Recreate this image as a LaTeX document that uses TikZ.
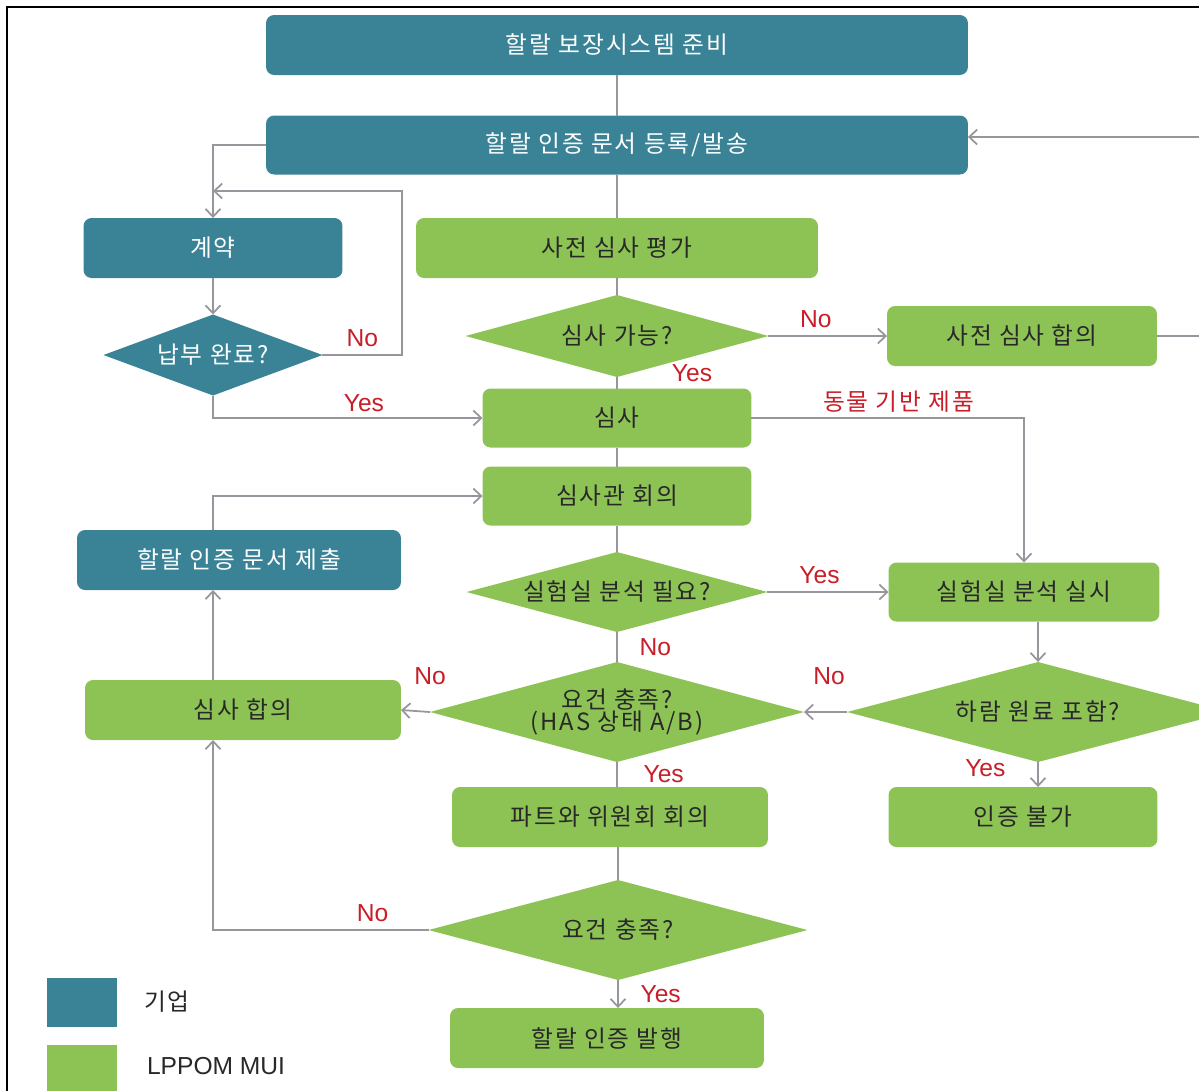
\documentclass[tikz,border=0pt]{standalone}
\usepackage{fontspec}
\setmainfont{Liberation Sans}
\newfontfamily\kr[LetterSpace=8]{Noto Sans CJK KR}
\usepackage{tikz}
\usetikzlibrary{positioning}
\usetikzlibrary{shapes.geometric}
\usetikzlibrary{arrows.meta}

\definecolor{corpTeal}{RGB}{58,131,150}
\definecolor{lppomGreen}{RGB}{141,195,84}
\definecolor{linkGray}{RGB}{150,150,156}
\definecolor{answerRed}{RGB}{200,30,40}
\definecolor{darkText}{RGB}{40,40,40}

\tikzset{
	procBox/.style={rectangle, rounded corners=0.16cm, inner sep=2pt, outer sep=0pt,
		font=\kr\fontsize{13.5}{13}\selectfont},
	corpBox/.style={procBox, fill=corpTeal, text=white},
	lppomBox/.style={procBox, fill=lppomGreen, text=darkText},
	decision/.style={diamond, aspect=3.6, inner sep=0pt, outer sep=0pt, align=center,
		font=\kr\fontsize{13.5}{13}\selectfont},
	corpDec/.style={decision, fill=corpTeal, text=white},
	lppomDec/.style={decision, fill=lppomGreen, text=darkText},
	link/.style={draw=linkGray, line width=1pt},
	flow/.style={link, -{Straight Barb[length=4.5pt,width=8.5pt]}},
	answer/.style={text=answerRed, inner sep=1pt, font=\fontsize{14}{14}\selectfont}
}

\begin{document}
\begin{tikzpicture}[x=0.02cm, y=-0.02cm]

\useasboundingbox (0,0) rectangle (1199,1090);
\clip (0,0) rectangle (1199,1090);

\draw[black, line width=1.2pt] (7,1100) -- (7,7) -- (1210,7);

\node[
	corpBox,
	minimum width=14.04cm,
	minimum height=1.2cm
] (prep) at (617,45) {할랄 보장시스템 준비};

\node[
	corpBox,
	minimum width=14.04cm,
	minimum height=1.18cm
] (register) at (617,145) {할랄 인증 문서 등록/발송};

\node[
	corpBox,
	minimum width=5.18cm,
	minimum height=1.2cm
] (contract) at (213,248) {계약};

\node[
	lppomBox,
	minimum width=8.04cm,
	minimum height=1.2cm
] (preEval) at (617,248) {사전 심사 평가};

\node[
	corpDec,
	minimum width=4.38cm,
	minimum height=1.62cm
] (payDone) at (213,355) {납부 완료?};

\node[
	lppomDec,
	minimum width=6.06cm,
	minimum height=1.64cm
] (canAudit) at (617,336) {심사 가능?};

\node[
	lppomBox,
	minimum width=5.4cm,
	minimum height=1.2cm
] (preCons) at (1022,336) {사전 심사 합의};

\node[
	lppomBox,
	minimum width=5.38cm,
	minimum height=1.18cm
] (audit) at (617,418) {심사};

\node[
	lppomBox,
	minimum width=5.38cm,
	minimum height=1.18cm
] (auditorMeet) at (617,496) {심사관 회의};

\node[
	corpBox,
	minimum width=6.48cm,
	minimum height=1.2cm
] (submitDoc) at (239,560) {할랄 인증 문서 제출};

\node[
	lppomDec,
	minimum width=6.02cm,
	minimum height=1.6cm
] (labNeed) at (617,592) {실험실 분석 필요?};

\node[
	lppomBox,
	minimum width=5.42cm,
	minimum height=1.18cm
] (labDo) at (1024,592) {실험실 분석 실시};

\node[
	lppomDec,
	minimum width=7.48cm,
	minimum height=2cm
] (reqHas) at (617,712) {요건 충족?\\(HAS 상태 A/B)};

\node[
	lppomBox,
	minimum width=6.32cm,
	minimum height=1.2cm
] (auditCons) at (243,710) {심사 합의};

\node[
	lppomDec,
	minimum width=7.64cm,
	minimum height=2cm
] (haram) at (1038,712) {하람 원료 포함?};

\node[
	lppomBox,
	minimum width=5.38cm,
	minimum height=1.2cm
] (reject) at (1023,817) {인증 불가};

\node[
	lppomBox,
	minimum width=6.32cm,
	minimum height=1.2cm
] (fatwa) at (610,817) {파트와 위원회 회의};

\node[
	lppomDec,
	minimum width=7.58cm,
	minimum height=2cm
] (reqMet) at (618,930) {요건 충족?};

\node[
	lppomBox,
	minimum width=6.28cm,
	minimum height=1.2cm
] (issue) at (607,1038) {할랄 인증 발행};

% legend
\node[
	fill=corpTeal,
	inner sep=0pt,
	minimum width=1.42cm,
	minimum height=0.98cm
] (keyCorp) at (82,1002) {};

\node[
	right=0.4cm of keyCorp,
	text=darkText,
	font=\kr\fontsize{13.5}{13}\selectfont
] (keyCorpText) {기업};

\node[
	fill=lppomGreen,
	inner sep=0pt,
	minimum width=1.42cm,
	minimum height=1cm
] (keyLppom) at (82,1070) {};

\node[
	right=0.46cm of keyLppom,
	yshift=0.08cm,
	text=darkText,
	font=\fontsize{14}{14}\selectfont
] (keyLppomText) {LPPOM MUI};

% ---

\coordinate (payLoop) at (402,191);
\coordinate (backRail) at (1215,137);
\coordinate (leftRail) at (213,0);

\draw[link] (prep.south) -- (register.north);

\draw[link] (register.south) -- (preEval.north);

\draw[flow] (register.west) -| (contract.north);

\draw[flow] (contract.south) -- (payDone.north);

\draw[flow] (payDone.east) -| (payLoop)
	node[answer, pos=0.25, above=3pt]{No} -- (payLoop -| contract.north);

\draw[flow] (payDone.south) |- (audit.west)
	node[answer, pos=0.78, above=2pt]{Yes};

\draw[link] (preEval.south) -- (canAudit.north);

\draw[flow] (canAudit.east) -- (preCons.west)
	node[answer, pos=0.4, above=3pt]{No};

\draw[flow] (preCons.east) -| (backRail) -- (backRail -| register.east);

\draw[link] (canAudit.south) -- (audit.north)
	node[answer, at start, xshift=1.5cm, yshift=0.08cm]{Yes};

\draw[link] (audit.south) -- (auditorMeet.north);

\draw[flow] (audit.east) -| (labDo.north)
	node[answer, pos=0.27, above=2pt, font=\kr\fontsize{13.5}{13}\selectfont]{동물 기반 제품};

\draw[flow] (leftRail |- submitDoc.north) |- (auditorMeet.west);

\draw[link] (auditorMeet.south) -- (labNeed.north);

\draw[flow] (labNeed.east) -- (labDo.west)
	node[answer, pos=0.43, above=3pt]{Yes};

\draw[link] (labNeed.south) -- (reqHas.north)
	node[answer, midway, right=0.4cm]{No};

\draw[flow] (reqHas.west) -- (auditCons.east)
	node[answer, at start, above=0.5cm]{No};

\draw[flow] (leftRail |- auditCons.north) -- (leftRail |- submitDoc.south);

\draw[flow] (haram.north |- labDo.south) -- (haram.north);

\draw[flow] (haram.west) -- (reqHas.east)
	node[answer, at start, above=0.5cm, xshift=-0.36cm]{No};

\draw[flow] (haram.south) -- (haram.south |- reject.north)
	node[answer, midway, left=0.6cm, yshift=0.12cm]{Yes};

\draw[link] (reqHas.south) -- (reqHas.south |- fatwa.north)
	node[answer, midway, right=0.48cm]{Yes};

\draw[link] (reqMet.north |- fatwa.south) -- (reqMet.north);

\draw[flow] (reqMet.west) -| (leftRail |- auditCons.south)
	node[answer, pos=0.13, above=3pt]{No};

\draw[flow] (reqMet.south) -- (reqMet.south |- issue.north)
	node[answer, midway, right=0.4cm]{Yes};

\end{tikzpicture}
\end{document}
